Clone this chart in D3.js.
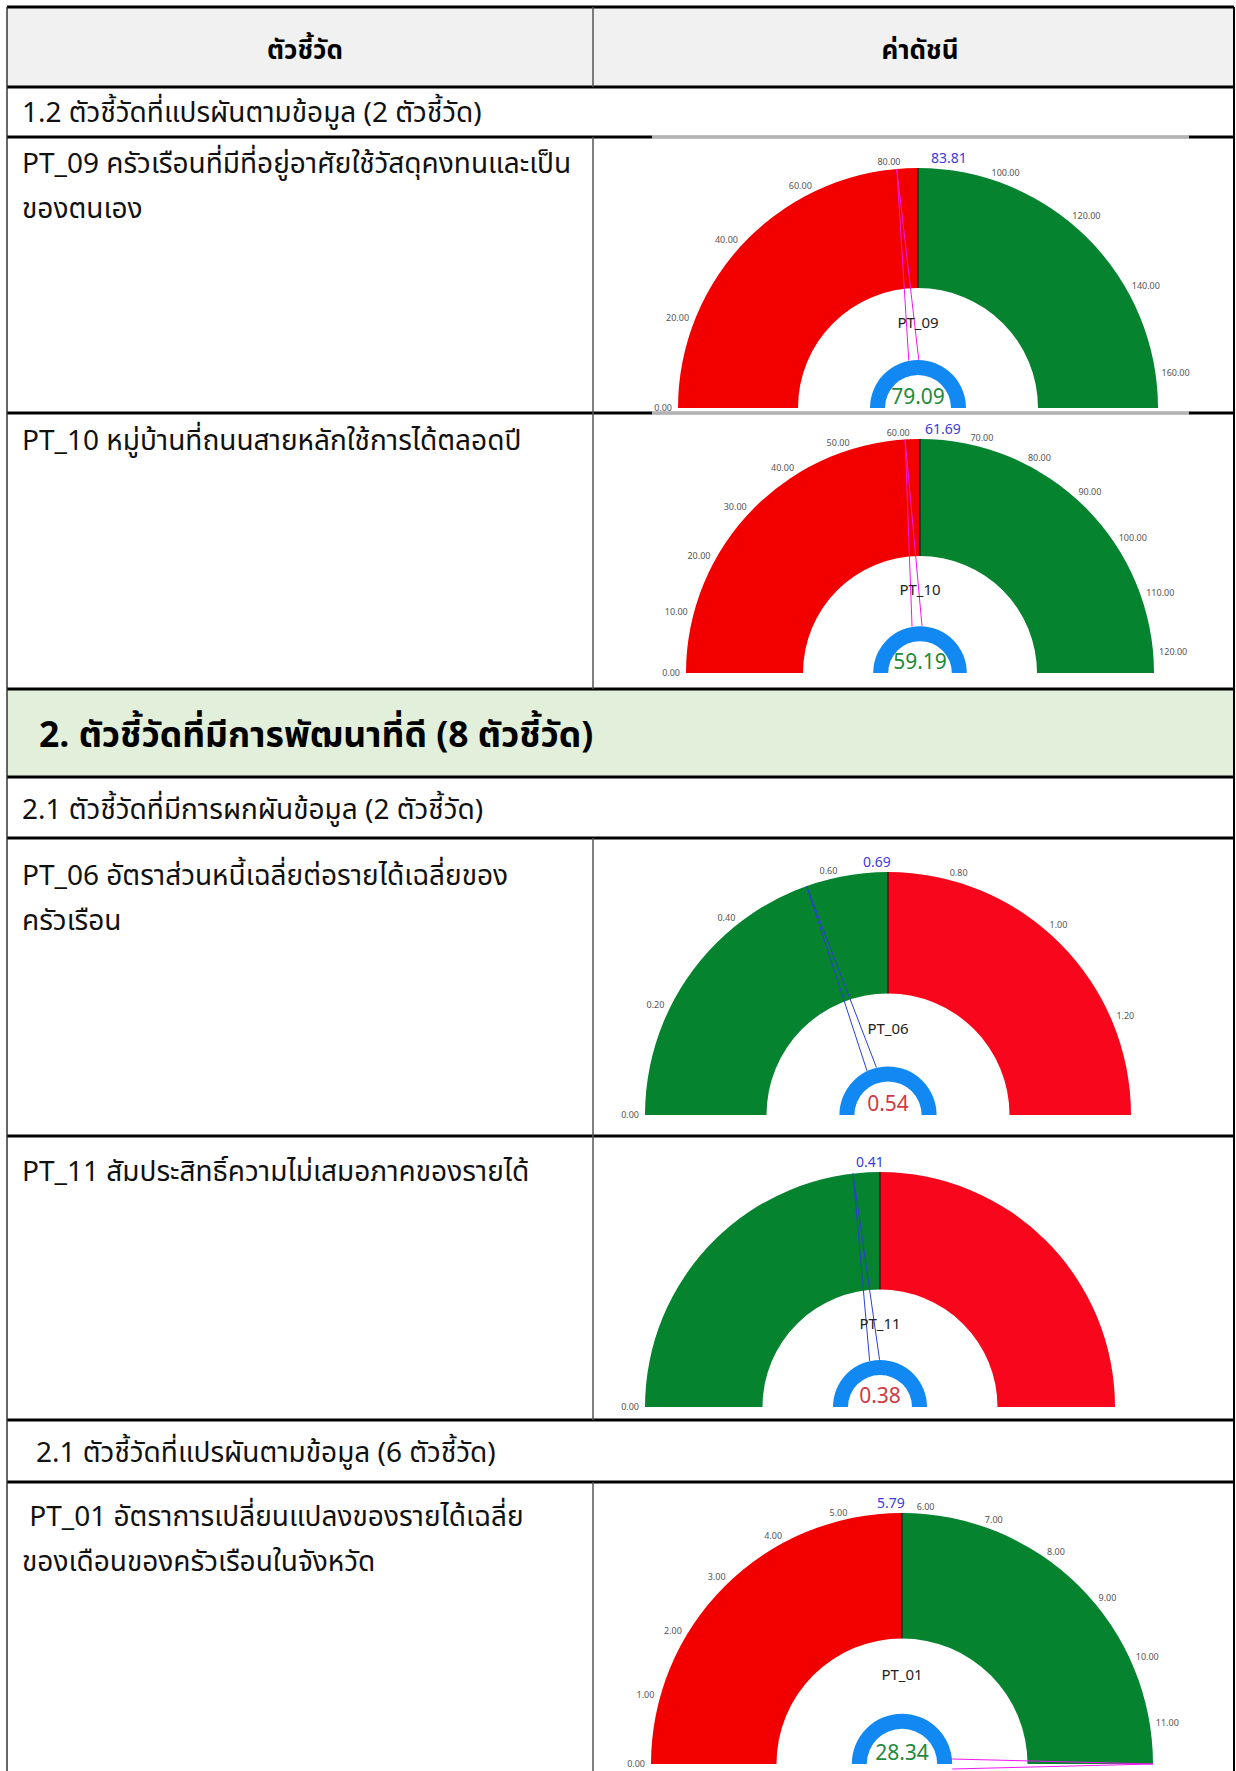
<!DOCTYPE html>
<html>
<head>
<meta charset="utf-8">
<script src="https://cdn.jsdelivr.net/npm/d3@7"></script>
<style>
  body { margin: 0; background: #fff; }
  svg text { font-family: "Leelawadee UI", "Noto Sans Thai", "Noto Sans Thai UI", Tahoma, "Noto Sans", sans-serif; }
</style>
</head>
<body>
<svg width="1236" height="1771"></svg>
<script>
// ---- data ----
var gaugeIds     = ["PT_09", "PT_10", "PT_06", "PT_11", "PT_01"];
var gaugeTargets = [83.81, 61.69, 0.69, 0.41, 5.79];
var gaugeValues  = [79.09, 59.19, 0.54, 0.38, 28.34];
var gaugeInverse = [false, false, true, true, false];   // true: low values are good
var gaugeTicks = [
  [0, 20, 40, 60, 80, 100, 120, 140, 160],
  [0, 10, 20, 30, 40, 50, 60, 70, 80, 90, 100, 110, 120],
  [0, 0.2, 0.4, 0.6, 0.8, 1.0, 1.2],
  [0],
  [0, 1, 2, 3, 4, 5, 6, 7, 8, 9, 10, 11]
];

var headerLabels = ["ตัวชี้วัด", "ค่าดัชนี"];
var groupLabels = [
  "1.2 ตัวชี้วัดที่แปรผันตามข้อมูล (2 ตัวชี้วัด)",
  "2.1 ตัวชี้วัดที่มีการผกผันข้อมูล (2 ตัวชี้วัด)",
  "2.1 ตัวชี้วัดที่แปรผันตามข้อมูล (6 ตัวชี้วัด)"
];
var sectionLabel = "2. ตัวชี้วัดที่มีการพัฒนาที่ดี (8 ตัวชี้วัด)";
var indicatorLines = [
  ["PT_09 ครัวเรือนที่มีที่อยู่อาศัยใช้วัสดุคงทนและเป็น", "ของตนเอง"],
  ["PT_10 หมู่บ้านที่ถนนสายหลักใช้การได้ตลอดปี"],
  ["PT_06 อัตราส่วนหนี้เฉลี่ยต่อรายได้เฉลี่ยของ", "ครัวเรือน"],
  ["PT_11 สัมประสิทธิ์ความไม่เสมอภาคของรายได้"],
  [" PT_01 อัตราการเปลี่ยนแปลงของรายได้เฉลี่ย", "ของเดือนของครัวเรือนในจังหวัด"]
];

// ---- layout ----
var W = 1236, H = 1771;
var xL = 7, xR = 1234, xMid = 593;
var hLines = [7, 87, 137, 413, 689, 777, 838, 1136, 1420, 1482];
var splitRows = [[7, 87], [137, 413], [413, 689], [838, 1136], [1136, 1420], [1482, 1771]];
var groupPos = [{x: 22, y: 113}, {x: 22, y: 810}, {x: 36, y: 1453}];
var textRows = [{y: 164}, {y: 441}, {y: 876}, {y: 1172}, {y: 1517}];
var gaugeLayout = [
  {cx: 918, cy: 408, r: 240, tdx: 13},
  {cx: 920, cy: 673, r: 234, tdx: 5},
  {cx: 888, cy: 1115, r: 243, tdx: -25},
  {cx: 880, cy: 1407, r: 235, tdx: -24},
  {cx: 902, cy: 1764, r: 251, tdx: -25}
];

var svg = d3.select("svg");

// backgrounds
svg.append("rect").attr("x", xL).attr("y", hLines[0]).attr("width", xR - xL).attr("height", hLines[1] - hLines[0]).attr("fill", "#f1f1f1");
svg.append("rect").attr("x", xL).attr("y", hLines[4]).attr("width", xR - xL).attr("height", hLines[5] - hLines[4]).attr("fill", "#e2efda");

// header text
svg.selectAll("text.head").data(headerLabels).enter().append("text")
    .attr("class", "head")
    .attr("x", function(d, i) { return i ? 920 : 305; })
    .attr("y", 59)
    .attr("text-anchor", "middle")
    .style("font-size", "26px").style("font-weight", "bold").style("fill", "#000")
    .text(function(d) { return d; });

svg.append("text").attr("x", 39).attr("y", 747)
    .style("font-size", "35.5px").style("font-weight", "bold").style("fill", "#000")
    .text(sectionLabel);

svg.selectAll("text.group").data(groupLabels).enter().append("text")
    .attr("class", "group")
    .attr("x", function(d, i) { return groupPos[i].x; })
    .attr("y", function(d, i) { return groupPos[i].y + 9; })
    .style("font-size", "28px").style("fill", "#111")
    .text(function(d) { return d; });

indicatorLines.forEach(function(lines, i) {
  lines.forEach(function(t, j) {
    svg.append("text")
        .attr("x", 22)
        .attr("y", textRows[i].y + 9 + j * 45)
        .attr("xml:space", "preserve")
        .style("font-size", "28px").style("fill", "#111")
        .style("white-space", "pre")
        .text(t);
  });
});

// ---- gauges ----
var arc = d3.arc();
var red = "#f20000", red2 = "#f8071c", green = "#05832f";

gaugeIds.forEach(function(id, i) {
  var L = gaugeLayout[i],
      target = gaugeTargets[i],
      value = gaugeValues[i],
      inv = gaugeInverse[i];

  var g = svg.append("g").attr("transform", "translate(" + L.cx + "," + L.cy + ")");

  var angle = d3.scaleLinear()
      .domain([0, target * 2])
      .range([-Math.PI / 2, Math.PI / 2])
      .clamp(true);

  g.append("path")
      .attr("d", arc({innerRadius: L.r / 2, outerRadius: L.r, startAngle: angle(0), endAngle: angle(target)}))
      .attr("fill", inv ? green : red);
  g.append("path")
      .attr("d", arc({innerRadius: L.r / 2, outerRadius: L.r, startAngle: angle(target), endAngle: angle(target * 2)}))
      .attr("fill", inv ? red2 : green);

  // target split
  g.append("line")
      .attr("x1", 0).attr("y1", -L.r / 2).attr("x2", 0).attr("y2", -L.r)
      .attr("stroke", "#111").attr("stroke-width", 1);

  // tick labels
  g.selectAll("text.tick").data(gaugeTicks[i]).enter().append("text")
      .attr("class", "tick")
      .attr("x", function(d) { return (L.r + 6) * Math.sin(angle(d)); })
      .attr("y", function(d) { return -(L.r + 6) * Math.cos(angle(d)); })
      .attr("dy", "0.3em")
      .attr("text-anchor", function(d) {
        var a = angle(d);
        return a < -0.03 ? "end" : a > 0.03 ? "start" : "middle";
      })
      .style("font-size", "9px").style("fill", "#555")
      .text(function(d) { return d3.format(".2f")(d); });

  // target label
  g.append("text")
      .attr("x", L.tdx).attr("y", -L.r - 5)
      .style("font-size", "14px").style("fill", "#3a3ae0")
      .text(d3.format(".2f")(target));

  // needle
  var a = angle(value),
      rb = L.r / 5,
      bx = rb * Math.sin(a), by = -rb * Math.cos(a),
      px = 5 * Math.cos(a), py = 5 * Math.sin(a),
      tx = L.r * Math.sin(a), ty = -L.r * Math.cos(a),
      needleColor = inv ? "#2a3fd6" : "#f016f0";
  g.append("path")
      .attr("d", "M" + (bx - px) + "," + (by - py) + "L" + tx + "," + ty + "L" + (bx + px) + "," + (by + py))
      .attr("fill", "none").attr("stroke", needleColor).attr("stroke-width", 1);

  // blue ring
  g.append("path")
      .attr("d", arc({innerRadius: L.r / 5 - 15, outerRadius: L.r / 5, startAngle: -Math.PI / 2, endAngle: Math.PI / 2}))
      .attr("fill", "#1289f2");

  g.append("text")
      .attr("y", -L.r / 3)
      .attr("text-anchor", "middle")
      .style("font-size", "15px").style("fill", "#222")
      .text(id);

  g.append("text")
      .attr("y", -4)
      .attr("text-anchor", "middle")
      .style("font-size", "21px").style("fill", inv ? "#d03a45" : "#1f8a3b")
      .text(d3.format(".2f")(value));
});

// ---- table lines ----
svg.selectAll("line.h").data(hLines).enter().append("line")
    .attr("x1", xL).attr("x2", xR)
    .attr("y1", function(d) { return d; }).attr("y2", function(d) { return d; })
    .attr("stroke", "#000").attr("stroke-width", 3);

// gauge image frames cover the border partly
[[652, 1189, 137], [652, 1189, 413]].forEach(function(f) {
  svg.append("line").attr("x1", f[0]).attr("x2", f[1]).attr("y1", f[2]).attr("y2", f[2])
      .attr("stroke", "#fff").attr("stroke-width", 3);
  svg.append("line").attr("x1", f[0]).attr("x2", f[1]).attr("y1", f[2]).attr("y2", f[2])
      .attr("stroke", "#666").attr("stroke-width", 1);
});

svg.selectAll("line.v").data(splitRows).enter().append("line")
    .attr("x1", xMid).attr("x2", xMid)
    .attr("y1", function(d) { return d[0]; }).attr("y2", function(d) { return d[1]; })
    .attr("stroke", "#555").attr("stroke-width", 1.5);

svg.append("line").attr("x1", xL).attr("x2", xL).attr("y1", hLines[0]).attr("y2", H)
    .attr("stroke", "#333").attr("stroke-width", 1.5);
svg.append("line").attr("x1", xR).attr("x2", xR).attr("y1", hLines[0]).attr("y2", H)
    .attr("stroke", "#000").attr("stroke-width", 2);
</script>
</body>
</html>
